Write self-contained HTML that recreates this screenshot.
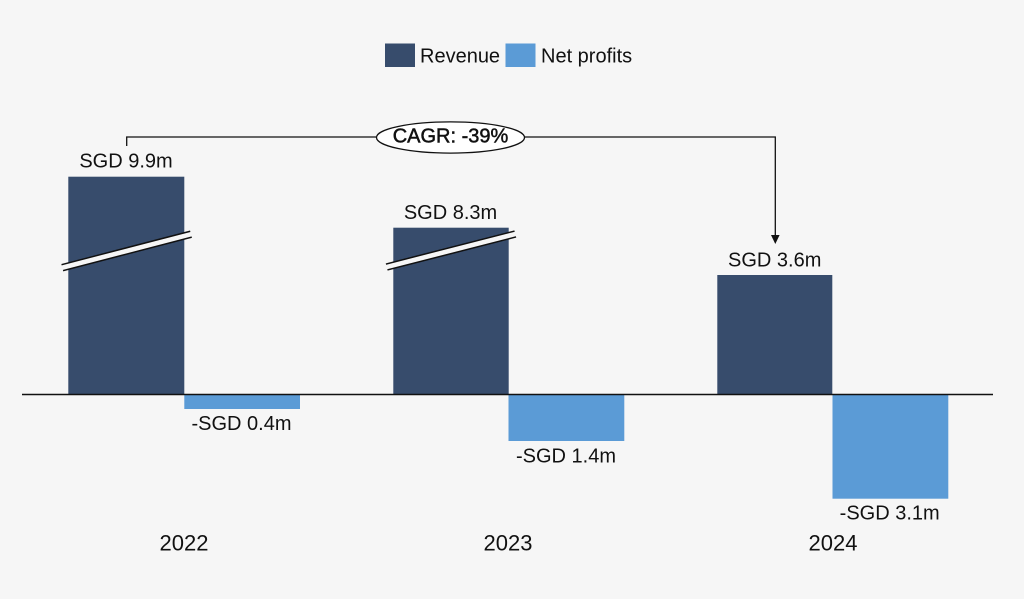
<!DOCTYPE html>
<html>
<head>
<meta charset="utf-8">
<style>
  html, body { margin: 0; padding: 0; background: #f6f6f6; }
  body { width: 1024px; height: 599px; overflow: hidden; }
  svg { display: block; }
  text { font-family: "Liberation Sans", sans-serif; fill: #111; }
</style>
</head>
<body>
<svg width="1024" height="599" viewBox="0 0 1024 599" xmlns="http://www.w3.org/2000/svg">
  <rect x="0" y="0" width="1024" height="599" fill="#f6f6f6"/>

  <!-- Legend -->
  <rect x="385" y="43.5" width="30" height="23.5" fill="#374c6c"/>
  <text x="420" y="62.5" font-size="20">Revenue</text>
  <rect x="505.5" y="43.5" width="30" height="23.5" fill="#5b9bd6"/>
  <text x="541" y="62.5" font-size="20">Net profits</text>

  <!-- Revenue bars -->
  <rect x="68.3" y="176.7" width="116" height="218" fill="#374c6c"/>
  <rect x="393.3" y="227.7" width="115.4" height="167" fill="#374c6c"/>
  <rect x="717.3" y="275" width="115" height="119.5" fill="#374c6c"/>

  <!-- Net profit bars -->
  <rect x="184.3" y="394.5" width="115.7" height="14.5" fill="#5b9bd6"/>
  <rect x="508.5" y="394.5" width="115.8" height="46.5" fill="#5b9bd6"/>
  <rect x="832.5" y="394.5" width="115.8" height="104.2" fill="#5b9bd6"/>

  <!-- Axis -->
  <line x1="22" y1="394.5" x2="993" y2="394.5" stroke="#111" stroke-width="1.4"/>

  <!-- Break marks -->
  <line x1="62.3" y1="267.7" x2="191" y2="234.2" stroke="#111" stroke-width="7.6"/>
  <line x1="61" y1="268.0" x2="192.5" y2="233.8" stroke="#f6f6f6" stroke-width="4.6"/>
  <line x1="386.7" y1="267" x2="515.3" y2="234" stroke="#111" stroke-width="7.6"/>
  <line x1="385.5" y1="267.3" x2="516.5" y2="233.7" stroke="#f6f6f6" stroke-width="4.6"/>

  <!-- CAGR connector -->
  <path d="M126.7 146 V137 H775.3 V236" fill="none" stroke="#111" stroke-width="1.3"/>
  <polygon points="771,235 779.6,235 775.3,244" fill="#111"/>
  <ellipse cx="450.5" cy="137.5" rx="74" ry="15.6" fill="#ffffff" stroke="#111" stroke-width="1.3"/>
  <text x="450.5" y="142.3" font-size="20" text-anchor="middle" stroke="#111" stroke-width="0.5">CAGR: -39%</text>

  <!-- Value labels -->
  <text x="126" y="167.3" font-size="20" text-anchor="middle">SGD 9.9m</text>
  <text x="450.5" y="219" font-size="20" text-anchor="middle">SGD 8.3m</text>
  <text x="774.7" y="266.7" font-size="20" text-anchor="middle">SGD 3.6m</text>

  <text x="241.5" y="430" font-size="20" text-anchor="middle">-SGD 0.4m</text>
  <text x="566" y="462.7" font-size="20" text-anchor="middle">-SGD 1.4m</text>
  <text x="889.7" y="519.3" font-size="20" text-anchor="middle">-SGD 3.1m</text>

  <!-- Year labels -->
  <text x="184" y="550.3" font-size="22" text-anchor="middle">2022</text>
  <text x="508" y="550.3" font-size="22" text-anchor="middle">2023</text>
  <text x="833" y="550.3" font-size="22" text-anchor="middle">2024</text>
</svg>
</body>
</html>
